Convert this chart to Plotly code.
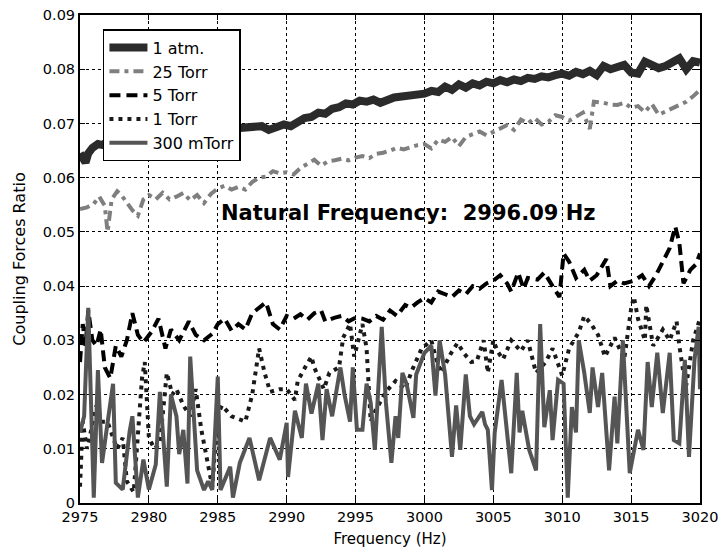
import plotly.graph_objects as go

# ---------------- data ----------------
atm_freq = [2975.0, 2975.2, 2975.4, 2975.6, 2975.9, 2976.3, 2976.7, 2977.0, 2977.5, 2978.5,
            2980.0, 2982.0, 2984.0, 2986.0, 2987.5, 2988.2, 2988.7, 2989.2, 2989.8, 2990.3,
            2990.8, 2991.3, 2991.8, 2992.3, 2992.8, 2993.3, 2993.8, 2994.3, 2994.8, 2995.3,
            2995.8, 2996.3, 2996.8, 2997.3, 2997.8, 2998.5, 2999.2, 3000.0, 3000.5, 3001.0,
            3001.5, 3002.0, 3002.5, 3003.0, 3003.5, 3004.0, 3004.5, 3005.0, 3005.5, 3006.0,
            3006.5, 3007.0, 3007.5, 3008.0, 3008.5, 3009.0, 3009.5, 3010.0, 3010.5, 3011.0,
            3011.5, 3012.0, 3012.5, 3013.0, 3013.5, 3014.0, 3014.5, 3015.0, 3015.5, 3016.0,
            3016.5, 3017.0, 3017.5, 3018.0, 3018.5, 3019.0, 3019.5, 3020.0]
atm_val = [0.0645, 0.0635, 0.0628, 0.0645, 0.0655, 0.0662, 0.0660, 0.0668, 0.0672, 0.0675,
           0.0678, 0.0682, 0.0685, 0.0688, 0.0690, 0.0695, 0.0688, 0.0692, 0.0698, 0.0695,
           0.0702, 0.0710, 0.0712, 0.0720, 0.0718, 0.0727, 0.0730, 0.0737, 0.0735, 0.0742,
           0.0740, 0.0744, 0.0738, 0.0745, 0.0748, 0.0750, 0.0752, 0.0755, 0.0760, 0.0758,
           0.0768, 0.0762, 0.0772, 0.0766, 0.0774, 0.0770, 0.0777, 0.0774, 0.0780, 0.0776,
           0.0781, 0.0778, 0.0784, 0.0782, 0.0787, 0.0785, 0.0789, 0.0792, 0.0788, 0.0795,
           0.0791, 0.0797, 0.0789, 0.0806, 0.0800, 0.0803, 0.0808, 0.0794, 0.0792, 0.0814,
           0.0808, 0.0802, 0.0806, 0.0812, 0.0820, 0.0800, 0.0815, 0.0812]

t25_freq = [2975.0, 2975.5, 2976.0, 2976.4, 2976.8, 2977.0, 2977.3, 2977.7, 2978.0, 2978.4,
            2978.8, 2979.2, 2979.6, 2980.0, 2980.5, 2981.0, 2981.5, 2982.0, 2982.5, 2983.0,
            2983.5, 2984.0, 2984.5, 2985.0, 2985.5, 2986.0, 2986.5, 2987.0, 2987.5, 2988.0,
            2988.5, 2989.0, 2989.5, 2990.0, 2990.5, 2991.0, 2991.5, 2992.0, 2992.5, 2993.0,
            2993.5, 2994.0, 2994.5, 2995.0, 2995.5, 2996.0, 2996.5, 2997.0, 2997.5, 2998.0,
            2998.5, 2999.0, 2999.5, 3000.0, 3000.5, 3001.0, 3001.5, 3002.0, 3002.5, 3003.0,
            3003.5, 3004.0, 3004.5, 3005.0, 3005.5, 3006.0, 3006.5, 3007.0, 3007.5, 3008.0,
            3008.5, 3009.0, 3009.5, 3010.0, 3010.5, 3011.0, 3011.5, 3012.0, 3012.3, 3013.0,
            3013.5, 3014.0, 3014.5, 3015.0, 3015.5, 3016.0, 3016.5, 3017.0, 3017.5, 3018.0,
            3018.5, 3019.0, 3019.5, 3020.0]
t25_val = [0.0542, 0.0545, 0.0552, 0.0565, 0.0548, 0.0500, 0.0560, 0.0575, 0.0568, 0.0555,
           0.0540, 0.0530, 0.0560, 0.0568, 0.0560, 0.0572, 0.0560, 0.0565, 0.0572, 0.0558,
           0.0568, 0.0553, 0.0570, 0.0580, 0.0585, 0.0578, 0.0583, 0.0578, 0.0592, 0.0600,
           0.0602, 0.0612, 0.0608, 0.0610, 0.0606, 0.0618, 0.0625, 0.0633, 0.0622, 0.0630,
           0.0632, 0.0635, 0.0632, 0.0637, 0.0640, 0.0636, 0.0644, 0.0646, 0.0650, 0.0655,
           0.0652, 0.0656, 0.0660, 0.0662, 0.0654, 0.0670, 0.0666, 0.0675, 0.0658, 0.0675,
           0.0680, 0.0685, 0.0678, 0.0684, 0.0692, 0.0697, 0.0688, 0.0707, 0.0700, 0.0710,
           0.0698, 0.0703, 0.0715, 0.0712, 0.0705, 0.0712, 0.0720, 0.0690, 0.0740, 0.0738,
           0.0735, 0.0734, 0.0738, 0.0729, 0.0732, 0.0721, 0.0736, 0.0716, 0.0722, 0.0729,
           0.0735, 0.0740, 0.0750, 0.0762]

t5_freq = [2975.0, 2975.2, 2975.4, 2975.6, 2975.9, 2976.2, 2976.5, 2976.8, 2977.2, 2977.6,
           2978.0, 2978.4, 2978.8, 2979.2, 2979.6, 2980.2, 2980.7, 2981.2, 2981.6, 2982.2,
           2982.9, 2983.4, 2984.0, 2984.6, 2985.0, 2985.5, 2986.0, 2986.5, 2987.0, 2987.5,
           2988.5, 2989.0, 2989.5, 2990.0, 2990.5, 2991.0, 2991.5, 2992.0, 2992.5, 2992.8,
           2993.5, 2994.0, 2994.5, 2995.0, 2995.5, 2996.0, 2996.5, 2997.0, 2997.5, 2998.0,
           2998.6, 2999.0, 2999.5, 3000.0, 3000.5, 3001.0, 3001.5, 3002.0, 3002.5, 3003.0,
           3003.5, 3004.0, 3004.5, 3005.0, 3005.5, 3006.0, 3006.3, 3006.8, 3007.2, 3007.5,
           3008.2, 3008.7, 3009.3, 3009.8, 3010.1, 3010.5, 3011.0, 3011.6, 3012.0, 3012.5,
           3013.2, 3013.5, 3014.0, 3014.5, 3015.2, 3015.8, 3016.3, 3016.8, 3017.3, 3017.8,
           3018.2, 3018.5, 3018.8, 3019.3, 3019.7, 3020.0]
t5_val = [0.0260, 0.0330, 0.0290, 0.0355, 0.0300, 0.0290, 0.0320, 0.0250, 0.0230, 0.0290,
          0.0270, 0.0300, 0.0350, 0.0310, 0.0296, 0.0316, 0.0340, 0.0285, 0.0320, 0.0300,
          0.0335, 0.0310, 0.0300, 0.0312, 0.0330, 0.0340, 0.0318, 0.0330, 0.0320, 0.0350,
          0.0370, 0.0330, 0.0320, 0.0345, 0.0340, 0.0348, 0.0338, 0.0350, 0.0355, 0.0335,
          0.0342, 0.0345, 0.0335, 0.0342, 0.0340, 0.0335, 0.0345, 0.0338, 0.0355, 0.0345,
          0.0365, 0.0360, 0.0370, 0.0378, 0.0370, 0.0390, 0.0385, 0.0380, 0.0392, 0.0385,
          0.0400, 0.0395, 0.0405, 0.0410, 0.0420, 0.0405, 0.0390, 0.0425, 0.0395, 0.0415,
          0.0412, 0.0425, 0.0400, 0.0380, 0.0460, 0.0445, 0.0415, 0.0430, 0.0410, 0.0420,
          0.0450, 0.0400, 0.0410, 0.0405, 0.0410, 0.0420, 0.0400, 0.0420, 0.0445, 0.0470,
          0.0510, 0.0480, 0.0405, 0.0430, 0.0440, 0.0460]

t1_freq = [2975.0, 2975.2, 2975.5, 2975.7, 2976.0, 2976.2, 2976.6, 2977.0, 2977.4, 2977.7,
           2978.1, 2978.4, 2978.9, 2979.2, 2979.5, 2979.7, 2980.0, 2980.4, 2980.8, 2981.3,
           2981.7, 2982.0, 2982.5, 2983.0, 2983.4, 2983.8, 2984.3, 2984.6, 2985.0, 2985.3,
           2986.0, 2986.5, 2987.0, 2987.5, 2988.0, 2988.4, 2988.8, 2989.5, 2990.0, 2990.6,
           2990.8, 2991.4, 2991.8, 2992.0, 2992.7, 2993.1, 2993.8, 2994.1, 2994.6, 2994.9,
           2995.5, 2995.8, 2996.1, 2996.4, 2997.2, 2997.9, 2998.6, 2999.1, 2999.8, 3000.5,
           3000.8, 3001.2, 3001.9, 3002.4, 3002.9, 3003.4, 3003.8, 3004.3, 3004.6, 3005.0,
           3005.3, 3005.7, 3006.3, 3007.0, 3007.5, 3008.1, 3008.8, 3009.3, 3010.0, 3010.5,
           3011.2, 3011.6, 3012.1, 3012.6, 3013.1, 3013.8, 3014.5, 3015.0, 3015.2, 3015.5,
           3016.0, 3016.1, 3016.6, 3017.3, 3017.8, 3018.3, 3018.5, 3018.8, 3019.0, 3019.5,
           3020.0]
t1_val = [0.0030, 0.0150, 0.0100, 0.0120, 0.0160, 0.0180, 0.0150, 0.0150, 0.0120, 0.0100,
          0.0120, 0.0040, 0.0020, 0.0120, 0.0230, 0.0260, 0.0120, 0.0100, 0.0110, 0.0240,
          0.0200, 0.0210, 0.0180, 0.0160, 0.0210, 0.0136, 0.0070, 0.0030, 0.0163, 0.0180,
          0.0160, 0.0155, 0.0150, 0.0200, 0.0285, 0.0240, 0.0205, 0.0210, 0.0210, 0.0190,
          0.0225, 0.0253, 0.0270, 0.0250, 0.0210, 0.0240, 0.0250, 0.0305, 0.0330, 0.0270,
          0.0330, 0.0285, 0.0150, 0.0168, 0.0205, 0.0225, 0.0210, 0.0245, 0.0285, 0.0300,
          0.0270, 0.0240, 0.0275, 0.0295, 0.0275, 0.0260, 0.0262, 0.0300, 0.0240, 0.0300,
          0.0280, 0.0265, 0.0300, 0.0280, 0.0300, 0.0240, 0.0260, 0.0285, 0.0235, 0.0285,
          0.0315, 0.0345, 0.0330, 0.0310, 0.0270, 0.0305, 0.0265, 0.0358, 0.0380, 0.0340,
          0.0300, 0.0365, 0.0290, 0.0320, 0.0300, 0.0335, 0.0290, 0.0240, 0.0217, 0.0300,
          0.0340]

m300_freq = [2975.0, 2975.3, 2975.6, 2976.0, 2976.3, 2976.6, 2977.0, 2977.4, 2977.6, 2978.1,
             2978.6, 2978.8, 2979.2, 2979.6, 2980.0, 2980.5, 2980.8, 2981.3, 2981.6, 2982.0,
             2982.2, 2982.5, 2982.8, 2983.0, 2983.5, 2984.0, 2984.3, 2984.6, 2985.0, 2985.2,
             2985.9, 2986.1, 2986.6, 2987.3, 2988.0, 2988.8, 2989.5, 2990.0, 2990.1, 2990.6,
             2991.1, 2991.4, 2991.8, 2992.3, 2992.6, 2992.9, 2993.3, 2993.9, 2994.2, 2994.6,
             2994.8, 2995.1, 2995.5, 2995.8, 2996.1, 2996.4, 2996.9, 2997.2, 2997.6, 2997.9,
             2998.1, 2998.4, 2998.7, 2999.2, 2999.4, 3000.0, 3000.5, 3000.8, 3001.1, 3001.5,
             3002.0, 3002.3, 3002.6, 3003.0, 3003.3, 3003.6, 3004.2, 3004.4, 3004.6, 3004.9,
             3005.1, 3005.6, 3006.3, 3006.7, 3006.9, 3007.1, 3007.6, 3008.1, 3008.4, 3008.7,
             3009.1, 3009.3, 3009.7, 3010.1, 3010.4, 3010.7, 3011.0, 3011.2, 3011.6, 3012.0,
             3012.2, 3012.6, 3012.9, 3013.4, 3013.8, 3014.0, 3014.4, 3014.9, 3015.5, 3015.9,
             3016.2, 3016.5, 3016.9, 3017.3, 3017.8, 3018.1, 3018.5, 3018.9, 3019.2, 3019.6,
             3019.9, 3020.0]
m300_val = [0.0130, 0.0160, 0.0360, 0.0010, 0.0245, 0.0074, 0.0148, 0.0220, 0.0037, 0.0025,
            0.0132, 0.0160, 0.0010, 0.0080, 0.0025, 0.0071, 0.0205, 0.0030, 0.0200, 0.0160,
            0.0090, 0.0135, 0.0036, 0.0270, 0.0060, 0.0024, 0.0040, 0.0024, 0.0233, 0.0024,
            0.0067, 0.0010, 0.0074, 0.0120, 0.0042, 0.0120, 0.0080, 0.0148, 0.0048, 0.0170,
            0.0120, 0.0220, 0.0165, 0.0220, 0.0116, 0.0210, 0.0160, 0.0250, 0.0200, 0.0150,
            0.0250, 0.0135, 0.0135, 0.0220, 0.0185, 0.0098, 0.0325, 0.0186, 0.0074, 0.0160,
            0.0120, 0.0240, 0.0220, 0.0157, 0.0237, 0.0277, 0.0290, 0.0198, 0.0300, 0.0237,
            0.0085, 0.0180, 0.0098, 0.0237, 0.0160, 0.0145, 0.0168, 0.0145, 0.0135, 0.0024,
            0.0130, 0.0227, 0.0055, 0.0240, 0.0130, 0.0170, 0.0098, 0.0060, 0.0330, 0.0140,
            0.0208, 0.0116, 0.0227, 0.0220, 0.0010, 0.0177, 0.0130, 0.0300, 0.0240, 0.0166,
            0.0250, 0.0177, 0.0240, 0.0060, 0.0196, 0.0110, 0.0300, 0.0055, 0.0135, 0.0098,
            0.0260, 0.0177, 0.0277, 0.0166, 0.0277, 0.0116, 0.0110, 0.0264, 0.0085, 0.0264,
            0.0325, 0.0210]

x_ticks = [2975, 2980, 2985, 2990, 2995, 3000, 3005, 3010, 3015, 3020]
y_ticks = [0, 0.01, 0.02, 0.03, 0.04, 0.05, 0.06, 0.07, 0.08, 0.09]
y_tick_labels = ["0", "0.01", "0.02", "0.03", "0.04", "0.05", "0.06", "0.07", "0.08", "0.09"]

annotation_text = "Natural Frequency:  2996.09 Hz"
annotation_x = 2998.8
annotation_y = 0.0535

# ---------------- figure ----------------
fig = go.Figure()
fig.add_trace(go.Scatter(x=atm_freq, y=atm_val, mode="lines", name="1 atm.",
                         line=dict(color="#2b2b2b", width=8)))
fig.add_trace(go.Scatter(x=t25_freq, y=t25_val, mode="lines", name="25 Torr",
                         line=dict(color="#7f7f7f", width=4, dash="10px,5px,4px,5px")))
fig.add_trace(go.Scatter(x=t5_freq, y=t5_val, mode="lines", name="5 Torr",
                         line=dict(color="#000000", width=4, dash="11px,6px")))
fig.add_trace(go.Scatter(x=t1_freq, y=t1_val, mode="lines", name="1 Torr",
                         line=dict(color="#1a1a1a", width=4, dash="4px,5px")))
fig.add_trace(go.Scatter(x=m300_freq, y=m300_val, mode="lines", name="300 mTorr",
                         line=dict(color="#555555", width=4)))

fig.add_annotation(x=annotation_x, y=annotation_y, text="<b>" + annotation_text + "</b>",
                   showarrow=False, font=dict(family="DejaVu Sans", size=21, color="black"))

axis_common = dict(showline=True, linecolor="black", linewidth=2, mirror="ticks",
                   ticks="inside", ticklen=5, tickcolor="black", tickwidth=1,
                   showgrid=True, gridcolor="black", gridwidth=1, griddash="dot",
                   zeroline=False, automargin=False, ticklabeloverflow="allow",
                   tickfont=dict(family="DejaVu Sans", size=14.5, color="black"))

fig.update_xaxes(range=[2975, 3020], tickvals=x_ticks,
                 title=dict(text="Frequency (Hz)", font=dict(family="DejaVu Sans", size=15, color="black"),
                            standoff=9),
                 **axis_common)
fig.update_yaxes(range=[0, 0.09], tickvals=y_ticks, ticktext=y_tick_labels,
                 title=dict(text="Coupling Forces Ratio", font=dict(family="DejaVu Sans", size=16, color="black"),
                            standoff=13),
                 **axis_common)

fig.update_layout(
    width=718, height=553,
    margin=dict(l=80, r=18, t=15, b=50),
    paper_bgcolor="white", plot_bgcolor="white",
    showlegend=True,
    legend=dict(x=0.037, y=0.971, xanchor="left", yanchor="top",
                bgcolor="white", bordercolor="black", borderwidth=1.5,
                font=dict(family="DejaVu Sans", size=16, color="black"),
                tracegroupgap=0, itemwidth=38),
)

# remove the default page margin so the figure fills the window exactly
fig.write_html("out.html", config={"displayModeBar": False},
               post_script="document.body.style.margin='0';")
